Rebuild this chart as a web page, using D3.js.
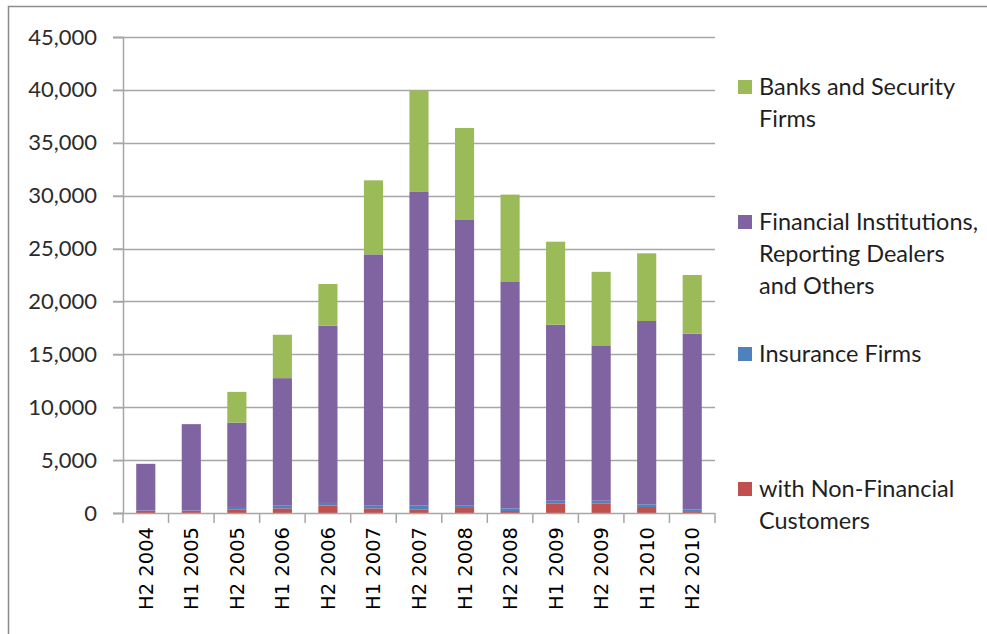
<!DOCTYPE html>
<html><head><meta charset="utf-8">
<script src="https://cdn.jsdelivr.net/npm/d3@7"></script>
<style>html,body{margin:0;padding:0;background:#fff;}svg{display:block;}</style>
</head><body>
<svg id="chart" width="987" height="634"></svg>
<script>
const categories = ["H2 2004","H1 2005","H2 2005","H1 2006","H2 2006","H1 2007","H2 2007","H1 2008","H2 2008","H1 2009","H2 2009","H1 2010","H2 2010"];
const nonFinancial = [200,200,350,440,700,440,350,470,190,910,910,570,100];
const insurance    = [30,30,220,250,250,250,350,220,250,250,250,250,220];
const financial    = [4420,8170,7980,12060,16750,23760,29650,27010,21460,16640,14690,17330,16630];
const banks        = [0,0,2900,4100,3950,7000,9600,8700,8200,7850,6950,6400,5550];
const yTicks = [0,5000,10000,15000,20000,25000,30000,35000,40000,45000];
const seriesNames = ["with Non-Financial Customers","Insurance Firms","Financial Institutions, Reporting Dealers and Others","Banks and Security Firms"];
const seriesColors = ["#C0504D","#4F81BD","#8064A2","#9BBB59"];

const svg = d3.select("#chart");
svg.append("rect").attr("x",0).attr("y",0).attr("width",987).attr("height",634).attr("fill","#fff");
svg.append("rect").attr("x",8.5).attr("y",6.5).attr("width",1100).attr("height",800)
  .attr("fill","none").attr("stroke","#8c8c8c").attr("stroke-width",1.5);

const x0 = 123, x1 = 715, y0 = 513, y1 = 37;
const x = d3.scaleBand().domain(categories).range([x0,x1]).paddingInner(0.58).paddingOuter(0.29);
const y = d3.scaleLinear().domain([0,45000]).range([y0,y1]);

// gridlines
svg.append("g").selectAll("line").data(yTicks.filter(d=>d>0)).join("line")
  .attr("x1",113).attr("x2",x1).attr("y1",d=>Math.round(y(d))+0.5).attr("y2",d=>Math.round(y(d))+0.5)
  .attr("stroke","#a6a6a6").attr("stroke-width",1.5);

// y axis
const yAxis = d3.axisLeft(y).tickValues(yTicks).tickSize(10).tickPadding(16).tickFormat(d3.format(","));
const ya = svg.append("g").attr("transform",`translate(${x0},0)`).call(yAxis);
ya.select(".domain").attr("stroke","#a6a6a6").attr("stroke-width",1.5);
ya.selectAll(".tick line").attr("stroke","#a6a6a6").attr("stroke-width",1.5);
ya.selectAll(".tick text").attr("font-family","Lato, 'Open Sans', sans-serif").attr("font-size",22).attr("fill","#2b2b2b");

// stacked bars
const rows = categories.map((c,i)=>({cat:c, s0:nonFinancial[i], s1:insurance[i], s2:financial[i], s3:banks[i]}));
const layers = d3.stack().keys(["s0","s1","s2","s3"])(rows);
svg.append("g").selectAll("g").data(layers).join("g")
  .attr("fill",(d,i)=>seriesColors[i])
  .selectAll("rect").data(d=>d).join("rect")
  .attr("x",d=>x(d.data.cat)).attr("width",x.bandwidth())
  .attr("y",d=>y(d[1])).attr("height",d=>Math.max(0,y(d[0])-y(d[1])));

// x axis
const xa = svg.append("g").attr("transform",`translate(0,${y0})`);
xa.append("line").attr("x1",113).attr("x2",x1).attr("y1",0.5).attr("y2",0.5).attr("stroke","#a6a6a6").attr("stroke-width",1.5);
const step = x.step();
xa.selectAll("line.tk").data(d3.range(categories.length+1)).join("line")
  .attr("class","tk")
  .attr("x1",i=>x0+i*step).attr("x2",i=>x0+i*step).attr("y1",0).attr("y2",10)
  .attr("stroke","#a6a6a6").attr("stroke-width",1.5);
xa.selectAll("text").data(categories).join("text")
  .attr("transform",d=>`translate(${x(d)+x.bandwidth()/2+7},14) rotate(-90)`)
  .attr("text-anchor","end")
  .attr("font-family","'DejaVu Sans', Verdana, sans-serif").attr("font-size",19.5)
  .attr("fill","#000").text(d=>d);

// legend
const legend = [
  {i:3, lines:["Banks and Security","Firms"], y:87},
  {i:2, lines:["Financial Institutions,","Reporting Dealers","and Others"], y:222},
  {i:1, lines:["Insurance Firms"], y:354},
  {i:0, lines:["with Non-Financial","Customers"], y:489}
];
const lg = svg.append("g");
legend.forEach(it=>{
  lg.append("rect").attr("x",738).attr("y",it.y-7).attr("width",14).attr("height",14).attr("fill",seriesColors[it.i]);
  it.lines.forEach((t,k)=>{
    lg.append("text").attr("x",759).attr("y",it.y+k*32).attr("dy","0.35em")
      .attr("font-family","Lato, 'Open Sans', sans-serif").attr("font-size",23.5).attr("fill","#1f1f1f").text(t);
  });
});
</script>
</body></html>
